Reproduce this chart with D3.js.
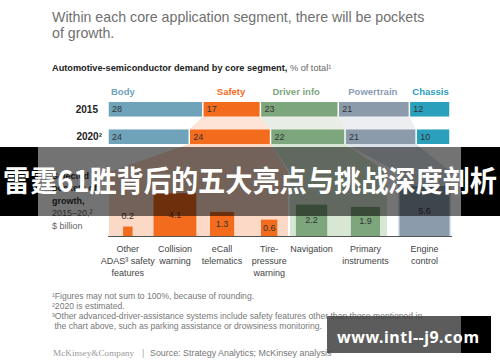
<!DOCTYPE html>
<html>
<head>
<meta charset="utf-8">
<script src="https://cdn.jsdelivr.net/npm/d3@7"></script>
<style>
body { margin: 0; background: #fff; }
svg { display: block; font-family: "Liberation Sans", Arial, sans-serif; }
.title { font-size: 14.2px; fill: #707070; }
.subtitle { font-size: 9.2px; fill: #222; font-weight: bold; }
.seg-head { font-size: 9.5px; font-weight: bold; }
.year { font-size: 10px; font-weight: bold; fill: #222; text-anchor: end; }
.seg-val { font-size: 9px; fill: #333; }
.pocket-val { font-size: 9px; fill: #333; text-anchor: middle; }
.cat { font-size: 9px; fill: #444; text-anchor: middle; }
.side { font-size: 9px; }
.note { font-size: 8.6px; fill: #777; }
</style>
</head>
<body>
<svg></svg>
<script>
var segments = ['Body', 'Safety', 'Driver info', 'Powertrain', 'Chassis'];
var years = ['2015', '2020'];
var yearLabels = ['2015', '2020²'];
var share2015 = [28, 17, 23, 21, 12];
var share2020 = [24, 24, 22, 21, 10];

var pocketNames = ['Other ADAS safety features', 'Collision warning', 'eCall telematics',
    'Tire-pressure warning', 'Navigation', 'Primary instruments', 'Engine control'];
var pocketLines = [['Other', 'ADAS³ safety', 'features'], ['Collision', 'warning'], ['eCall', 'telematics'],
    ['Tire-', 'pressure', 'warning'], ['Navigation'], ['Primary', 'instruments'], ['Engine', 'control']];
var pocketSegment = ['Safety', 'Safety', 'Safety', 'Safety', 'Driver info', 'Driver info', 'Powertrain'];
var pocketValues = [0.2, 4.1, 1.3, 0.6, 2.2, 1.9, 5.6];

var titleLines = ['Within each core application segment, there will be pockets', 'of growth.'];
var notes = ['¹Figures may not sum to 100%, because of rounding.',
    '²2020 is estimated.',
    '³Other advanced-driver-assistance systems include safety features other than those mentioned in',
    ' the chart above, such as parking assistance or drowsiness monitoring.'];

var width = 500,
    height = 362,
    segColor = {'Body': '#6ea3ba', 'Safety': '#f36b1c', 'Driver info': '#7ea67c', 'Powertrain': '#8b9bac', 'Chassis': '#2ba0bc'},
    headColor = {'Body': '#6ea3ba', 'Safety': '#f36b1c', 'Driver info': '#7ea67c', 'Powertrain': '#8b9bb5', 'Chassis': '#2ba0bc'},
    linkColor = {'Safety': '#fde4d7', 'Driver info': '#e8ede6', 'Powertrain': '#eceef1'},
    colColor = {'Safety': '#fcd9c6', 'Driver info': '#d8e6d4', 'Powertrain': '#dce2e9'},
    colExtent = {'Safety': [109, 288], 'Driver info': [290, 387], 'Powertrain': [398, 451]},
    headDx = [3, 14, 12, 10, 3],
    svg = d3.select('svg')
    .attr('width', width)
    .attr('height', height);

svg.append('rect').attr('width', width).attr('height', height).attr('fill', '#fff');

svg.selectAll('.title')
    .data(titleLines)
    .enter().append('text')
    .attr('class', 'title')
    .attr('x', 52)
    .attr('y', function (d, i) { return 22 + i * 16; })
    .text(function (d) { return d; });

var sub = svg.append('text').attr('class', 'subtitle').attr('x', 52).attr('y', 70.5)
    .text('Automotive-semiconductor demand by core segment, ');
sub.append('tspan').attr('font-weight', 'normal').attr('fill', '#666').text('% of total¹');

// stacked share bars
var rows = years.map(function (y, i) {
    var r = {year: y};
    segments.forEach(function (s, j) { r[s] = (i == 0 ? share2015 : share2020)[j]; });
    return r;
});
var series = d3.stack().keys(segments)(rows);

var x = d3.scaleLinear().domain([0, d3.sum(share2015)]).range([108, 450]),
    y = d3.scaleBand().domain(years).range([102, 144]).paddingInner(0.47);

var bottomY = y('2015') + y.bandwidth(),
    topY = y('2020'),
    baseY = 236,
    colTop = 172;

// links between 2015 and 2020
svg.append('g').selectAll('path')
    .data(series.filter(function (s) { return linkColor[s.key]; }))
    .enter().append('path')
    .attr('fill', function (s) { return linkColor[s.key]; })
    .attr('d', function (s) {
        return 'M' + x(s[0][0]) + ',' + bottomY + 'L' + x(s[0][1]) + ',' + bottomY +
            'L' + x(s[1][1]) + ',' + topY + 'L' + x(s[1][0]) + ',' + topY + 'Z';
    });

// columns for growth pockets
svg.append('g').selectAll('path')
    .data(series.filter(function (s) { return colExtent[s.key]; }))
    .enter().append('path')
    .attr('fill', function (s) { return colColor[s.key]; })
    .attr('d', function (s) {
        var c = colExtent[s.key], b = y('2020') + y.bandwidth();
        return 'M' + x(s[1][0]) + ',' + b + 'L' + x(s[1][1]) + ',' + b +
            'L' + c[1] + ',' + colTop + 'L' + c[1] + ',' + baseY +
            'L' + c[0] + ',' + baseY + 'L' + c[0] + ',' + colTop + 'Z';
    });

var layer = svg.selectAll('.layer')
    .data(series)
    .enter().append('g')
    .attr('class', 'layer');

layer.selectAll('rect')
    .data(function (s) { return s.map(function (d) { return {key: s.key, d: d}; }); })
    .enter().append('rect')
    .attr('x', function (o) { return x(o.d[0]) + 0.75; })
    .attr('width', function (o) { return x(o.d[1]) - x(o.d[0]) - 1.5; })
    .attr('y', function (o) { return y(o.d.data.year); })
    .attr('height', y.bandwidth())
    .attr('fill', function (o) { return segColor[o.key]; });

layer.selectAll('.seg-val')
    .data(function (s) { return s.map(function (d) { return {key: s.key, d: d}; }); })
    .enter().append('text')
    .attr('class', 'seg-val')
    .attr('x', function (o) { return x(o.d[0]) + 4; })
    .attr('y', function (o) { return y(o.d.data.year) + y.bandwidth() / 2 + 3.2; })
    .text(function (o) { return o.d[1] - o.d[0]; });

svg.selectAll('.seg-head')
    .data(series)
    .enter().append('text')
    .attr('class', 'seg-head')
    .attr('x', function (s, i) { return x(s[0][0]) + headDx[i]; })
    .attr('y', 94.5)
    .attr('fill', function (s) { return headColor[s.key]; })
    .text(function (s) { return s.key; });

svg.selectAll('.year')
    .data(years)
    .enter().append('text')
    .attr('class', 'year')
    .attr('x', function (d, i) { return i == 0 ? 98 : 102; })
    .attr('y', function (d) { return y(d) + y.bandwidth() / 2 + 3.5; })
    .text(function (d, i) { return yearLabels[i]; });

// growth pockets
var size = d3.scaleSqrt().domain([0, d3.max(pocketValues)]).range([0, 50]);
var px = {};
Object.keys(colExtent).forEach(function (k) {
    px[k] = d3.scalePoint()
        .domain(pocketNames.filter(function (n, i) { return pocketSegment[i] == k; }))
        .range(colExtent[k])
        .padding(0.4);
});
function cx(i) { return px[pocketSegment[i]](pocketNames[i]); }

var pocket = svg.append('g').selectAll('g')
    .data(pocketValues)
    .enter().append('g');

pocket.append('rect')
    .attr('x', function (d, i) { return cx(i) - size(d) / 2; })
    .attr('y', function (d) { return baseY - size(d); })
    .attr('width', function (d) { return size(d); })
    .attr('height', function (d) { return size(d); })
    .attr('fill', function (d, i) { return segColor[pocketSegment[i]]; });

pocket.append('text')
    .attr('class', 'pocket-val')
    .attr('x', function (d, i) { return cx(i); })
    .attr('y', function (d) { return size(d) > 14 ? baseY - size(d) / 2 + 3 : baseY - size(d) - 8; })
    .text(function (d) { return d3.format('.1f')(d); });

pocket.append('text')
    .attr('class', 'cat')
    .selectAll('tspan')
    .data(function (d, i) { return pocketLines[i].map(function (l) { return {l: l, i: i}; }); })
    .enter().append('tspan')
    .attr('x', function (o) { return cx(o.i); })
    .attr('y', function (o, j) { return 252 + j * 12; })
    .text(function (o) { return o.l; });

svg.append('line')
    .attr('x1', 108).attr('x2', 452)
    .attr('y1', baseY + 0.5).attr('y2', baseY + 0.5)
    .attr('stroke', '#555').attr('stroke-width', 1);

var sideLabel = [['Selected', true], ['pockets of', true], ['growth,', true], ['2015–20,²', false], ['$ billion', false]];
svg.selectAll('.side')
    .data(sideLabel)
    .enter().append('text')
    .attr('class', 'side')
    .attr('x', 52)
    .attr('y', function (d, i) { return 178.5 + i * 12.5; })
    .attr('font-weight', function (d) { return d[1] ? 'bold' : 'normal'; })
    .attr('fill', function (d) { return d[1] ? '#333' : '#666'; })
    .text(function (d) { return d[0]; });

svg.selectAll('.note')
    .data(notes)
    .enter().append('text')
    .attr('class', 'note')
    .attr('x', 52)
    .attr('y', function (d, i) { return 299 + i * 10; })
    .attr('xml:space', 'preserve')
    .text(function (d) { return d; });

svg.append('text').attr('x', 53).attr('y', 356)
    .attr('font-family', '"Liberation Serif", serif').attr('font-size', 9.2).attr('fill', '#9a9a9a')
    .text('McKinsey&Company');
svg.append('text').attr('x', 142).attr('y', 356)
    .attr('font-size', 9).attr('fill', '#aaa').text('|');
svg.append('text').attr('x', 150).attr('y', 356)
    .attr('font-size', 8.9).attr('fill', '#777').text('Source: Strategy Analytics; McKinsey analysis');

// overlay banner
svg.append('rect').attr('x', 38).attr('y', 147).attr('width', 423).attr('height', 69)
    .attr('fill', 'rgba(0,0,0,0.55)');
svg.append('rect').attr('x', 0).attr('y', 147).attr('width', 38).attr('height', 69).attr('fill', '#000');
svg.append('rect').attr('x', 461).attr('y', 147).attr('width', 39).attr('height', 69).attr('fill', '#000');
svg.append('text')
    .attr('x', 3).attr('y', 192)
    .attr('font-family', '"Noto Sans CJK SC", sans-serif')
    .attr('font-weight', 'bold')
    .attr('font-size', 29)
    .attr('textLength', 494)
    .attr('lengthAdjust', 'spacingAndGlyphs')
    .attr('fill', '#fff')
    .text('雷霆61胜背后的五大亮点与挑战深度剖析');

// watermark
svg.append('rect').attr('x', 327).attr('y', 316).attr('width', 134).attr('height', 37)
    .attr('fill', 'rgba(70,70,70,0.88)');
svg.append('rect').attr('x', 461).attr('y', 316).attr('width', 30).attr('height', 37).attr('fill', '#000');
svg.append('text')
    .attr('x', 337).attr('y', 343)
    .attr('font-family', '"Noto Sans", sans-serif')
    .attr('font-weight', 'bold')
    .attr('font-size', 16)
    .attr('textLength', 142)
    .attr('fill', '#fff')
    .text('www.intl--j9.com');
</script>
</body>
</html>
